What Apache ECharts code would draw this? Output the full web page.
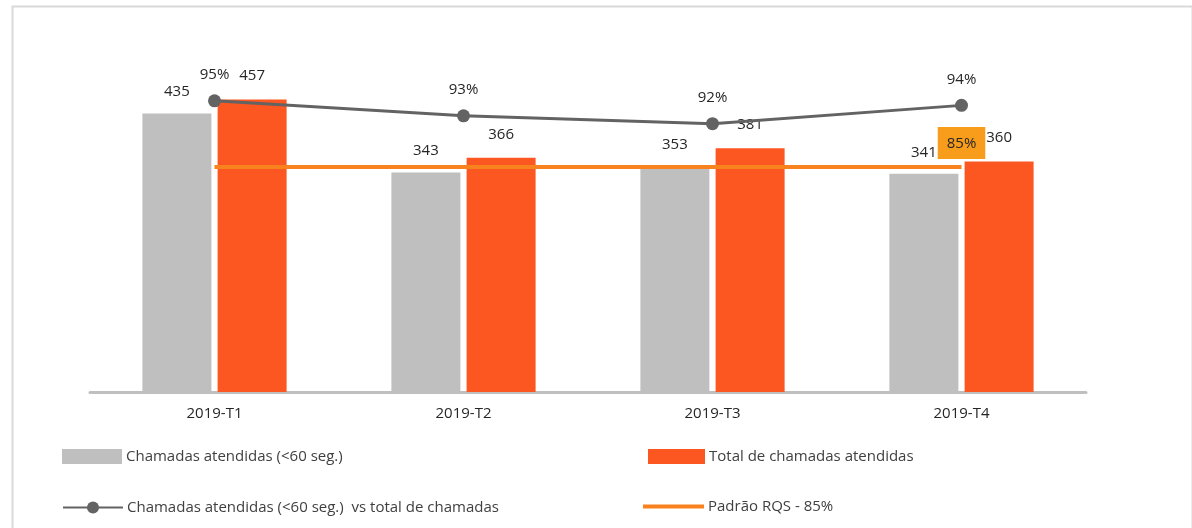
<!DOCTYPE html>
<html>
<head>
<meta charset="utf-8">
<script src="https://cdn.jsdelivr.net/npm/echarts@6/dist/echarts.min.js"></script>
<style>
  html, body { margin: 0; padding: 0; background: #ffffff; }
  #chart { width: 1192px; height: 528px; }
</style>
</head>
<body>
<div id="chart"></div>
<script>
// Quarterly call-centre figures
const categories = ['2019-T1', '2019-T2', '2019-T3', '2019-T4'];
const answeredUnder60 = [435, 343, 353, 341];          // Chamadas atendidas (<60 seg.)
const answeredTotal = [457, 366, 381, 360];            // Total de chamadas atendidas
const shareUnder60 = [95.1, 92.8, 91.6, 94.4];         // % atendidas em <60 s
const rqsTarget = [85, 85, 85, 85];                    // Padrão RQS - 85%

const names = {
  gray: 'Chamadas atendidas (<60 seg.)',
  orange: 'Total de chamadas atendidas',
  share: 'Chamadas atendidas (<60 seg.)  vs total de chamadas',
  rqs: 'Padrão RQS - 85%'
};

const FONT = '"Open Sans", "DejaVu Sans", sans-serif';
const TXT = '#262626';

const chart = echarts.init(document.getElementById('chart'), null, { renderer: 'canvas' });

function legendAt(item, left, top, w, h) {
  return {
    data: [item], left: left, top: top, itemWidth: w, itemHeight: h, itemGap: 0,
    padding: 0, selectedMode: false,
    textStyle: { fontFamily: FONT, fontSize: 15, color: '#404040', padding: [0, 0, 0, -1] }
  };
}

// the target line is labelled only at its last point
const rqsData = rqsTarget.map((v, i) => ({
  value: v,
  label: { show: i === rqsTarget.length - 1 }
}));

chart.setOption({
  animation: false,
  backgroundColor: '#ffffff',
  graphic: [{
    type: 'rect', left: 10, top: 4, silent: true,
    shape: { width: 1180, height: 540 },
    style: { fill: 'none', stroke: '#d9d9d9', lineWidth: 2 }
  }],
  legend: [
    legendAt({ name: names.gray, icon: 'rect' }, 62, 449, 60, 15),
    legendAt({ name: names.orange, icon: 'rect' }, 648, 449, 57, 15),
    legendAt({ name: names.share }, 62, 500, 60, 15),
    legendAt({ name: names.rqs, icon: 'rect' }, 643, 499, 61, 4)
  ],
  grid: { left: 90, right: 106, top: 72, bottom: 136 },
  xAxis: {
    type: 'category', data: categories,
    axisLine: { lineStyle: { color: '#bfbfbf', width: 3 } },
    axisTick: { show: false },
    axisLabel: { fontFamily: FONT, fontSize: 15, color: TXT, margin: 14 }
  },
  yAxis: [
    { type: 'value', min: 0, max: 500, show: false, splitLine: { show: false } },
    { type: 'value', min: 50.6, max: 99.5, show: false, splitLine: { show: false } }
  ],
  series: [
    {
      name: names.gray, type: 'bar', data: answeredUnder60,
      barWidth: 69, barGap: '9%',
      itemStyle: { color: '#bfbfbf' },
      label: { show: true, position: 'top', distance: 14, fontFamily: FONT, fontSize: 15, color: TXT }
    },
    {
      name: names.orange, type: 'bar', data: answeredTotal,
      barWidth: 69,
      itemStyle: { color: '#fc5621' },
      label: { show: true, position: 'top', distance: 16, fontFamily: FONT, fontSize: 15, color: TXT }
    },
    {
      name: names.rqs, type: 'line', yAxisIndex: 1, data: rqsData,
      symbol: 'circle', symbolSize: 0, z: 3,
      lineStyle: { color: '#f7821e', width: 4 },
      itemStyle: { color: '#f7821e' },
      label: {
        position: 'top', distance: 8, fontFamily: FONT, fontSize: 15, color: TXT,
        backgroundColor: '#f89c1c', padding: [9, 9, 8, 9],
        formatter: p => p.value + '%'
      }
    },
    {
      name: names.share, type: 'line', yAxisIndex: 1, data: shareUnder60,
      symbol: 'circle', symbolSize: 13, z: 4,
      lineStyle: { color: '#636363', width: 3 },
      itemStyle: { color: '#636363' },
      label: {
        show: true, position: 'top', distance: 12, fontFamily: FONT, fontSize: 15, color: TXT,
        formatter: p => Math.round(p.value) + '%'
      }
    }
  ]
});
</script>
</body>
</html>
